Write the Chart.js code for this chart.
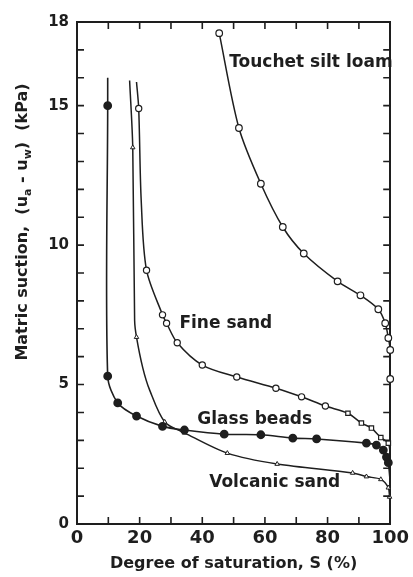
<!DOCTYPE html>
<html>
<head>
<meta charset="utf-8">
<script src="https://cdn.jsdelivr.net/npm/chart.js@4"></script>
<style>
  html, body { margin: 0; padding: 0; background: #fff; }
  #wrap { width: 413px; height: 577px; }
</style>
</head>
<body>
<div id="wrap"><canvas id="chart"></canvas></div>
<script>
// degree of saturation S (%) and matric suction (kPa)
const glassS   = [9.8, 9.8, 9.8, 13.0, 19.0, 27.3, 34.3, 47.0, 58.7, 68.9, 76.5, 92.4, 95.6, 97.8, 98.8, 99.4, 100];
const glassPsi = [16.0, 15.0, 5.3, 4.34, 3.87, 3.5, 3.37, 3.22, 3.2, 3.08, 3.05, 2.9, 2.83, 2.65, 2.4, 2.2, 1.5];

const volcS   = [16.8, 17.8, 18.4, 19.0, 21.0, 23.2, 28.0, 34.3, 48.0, 63.9, 88.0, 92.4, 97.0, 99.4, 99.8];
const volcPsi = [15.9, 13.5, 7.3, 6.7, 5.6, 4.8, 3.66, 3.27, 2.54, 2.15, 1.83, 1.7, 1.6, 1.3, 0.97];

const fineS   = [19.0, 19.7, 20.5, 22.2, 27.3, 28.6, 32.0, 40.0, 51.0, 63.5, 71.7, 79.3, 86.5, 90.8, 94.0, 97.0, 99.4, 100];
const finePsi = [15.85, 14.9, 11.6, 9.1, 7.5, 7.2, 6.5, 5.7, 5.27, 4.87, 4.56, 4.23, 3.97, 3.62, 3.44, 3.1, 2.9, 2.5];

const touchS   = [45.4, 51.7, 58.7, 65.7, 72.4, 83.2, 90.5, 96.2, 98.4, 99.4, 100, 100];
const touchPsi = [17.6, 14.2, 12.2, 10.65, 9.7, 8.7, 8.2, 7.7, 7.2, 6.67, 6.24, 5.2];

const seriesNames = ['Glass beads', 'Volcanic sand', 'Fine sand', 'Touchet silt loam'];
const xTicks = [0, 20, 40, 60, 80, 100];
const yTicks = [0, 5, 10, 15, 18];
const xStep = 10;
const yStep = 1;

// points on the curves that carry no marker
const glassBare = [0, 16];
const volcBare = [0, 2, 4, 5];
const fineBare = [0, 2, 17];

const ink = '#1e1e1e';

function pts(xs, ys) {
  return xs.map((x, i) => ({ x: x, y: ys[i] }));
}

function radius(bare, r) {
  return c => bare.includes(c.dataIndex) ? 0 : r;
}

// curve names placed inside the plot (data units)
const labelAt = [
  { text: seriesNames[3], s: 48.6, p: 16.55 },
  { text: seriesNames[2], s: 32.7, p: 7.2 },
  { text: seriesNames[0], s: 38.4, p: 3.73 },
  { text: seriesNames[1], s: 42.2, p: 1.5 }
];

const curveLabels = {
  id: 'curveLabels',
  afterDatasetsDraw(chart) {
    const ctx = chart.ctx;
    const xs = chart.scales.x, ys = chart.scales.y;
    ctx.save();
    ctx.fillStyle = ink;
    ctx.font = 'bold 17px "DejaVu Sans"';
    ctx.textBaseline = 'middle';
    ctx.textAlign = 'left';
    labelAt.forEach(l => {
      ctx.fillText(l.text, xs.getPixelForValue(l.s), ys.getPixelForValue(l.p));
    });
    ctx.restore();
  }
};

// tick marks pointing into the plot on all four sides
const inTicks = {
  id: 'inTicks',
  afterDraw(chart) {
    const ctx = chart.ctx;
    const xs = chart.scales.x, ys = chart.scales.y;
    const left = xs.left, right = xs.right, top = ys.top, bottom = ys.bottom;
    const len = 7;
    ctx.save();
    ctx.strokeStyle = ink;
    ctx.lineWidth = 1.6;
    for (let v = xs.min; v <= xs.max; v += xStep) {
      const px = xs.getPixelForValue(v);
      ctx.beginPath();
      ctx.moveTo(px, bottom); ctx.lineTo(px, bottom - len);
      ctx.moveTo(px, top); ctx.lineTo(px, top + len);
      ctx.stroke();
    }
    for (let v = ys.min; v <= ys.max; v += yStep) {
      const py = ys.getPixelForValue(v);
      ctx.beginPath();
      ctx.moveTo(left, py); ctx.lineTo(left + len, py);
      ctx.moveTo(right, py); ctx.lineTo(right - len, py);
      ctx.stroke();
    }
    ctx.restore();
  }
};

// y axis title with subscripts
const yTitle = {
  id: 'yTitle',
  afterDraw(chart) {
    const ctx = chart.ctx;
    const parts = [
      ['Matric suction,  (u', false],
      ['a', true],
      [' - u', false],
      ['w', true],
      [')  (kPa)', false]
    ];
    const big = 'bold 16px "DejaVu Sans"';
    const small = 'bold 11px "DejaVu Sans"';
    let total = 0;
    parts.forEach(p => {
      ctx.font = p[1] ? small : big;
      total += ctx.measureText(p[0]).width;
    });
    ctx.save();
    ctx.translate(23, 222);
    ctx.rotate(-Math.PI / 2);
    ctx.fillStyle = ink;
    ctx.textBaseline = 'middle';
    ctx.textAlign = 'left';
    let x = -total / 2;
    parts.forEach(p => {
      ctx.font = p[1] ? small : big;
      ctx.fillText(p[0], x, p[1] ? 5 : 0);
      x += ctx.measureText(p[0]).width;
    });
    ctx.restore();
  }
};

const tickFontY = { family: 'DejaVu Sans', size: 15, weight: 'bold' };
const tickFontX = { family: 'DejaVu Sans', size: 18, weight: 'bold' };
const noGrid = { drawOnChartArea: false, drawTicks: false };

new Chart(document.getElementById('chart'), {
  type: 'scatter',
  data: {
    datasets: [
      {
        label: seriesNames[0],
        data: pts(glassS, glassPsi),
        showLine: true,
        tension: 0.3,
        borderColor: ink,
        borderWidth: 1.6,
        pointStyle: 'circle',
        pointRadius: radius(glassBare, 3.6),
        pointBackgroundColor: ink,
        pointBorderColor: ink
      },
      {
        label: seriesNames[1],
        data: pts(volcS, volcPsi),
        showLine: true,
        tension: 0.3,
        borderColor: ink,
        borderWidth: 1.5,
        pointStyle: 'triangle',
        pointRadius: radius(volcBare, 2.6),
        pointBackgroundColor: '#fff',
        pointBorderColor: ink,
        pointBorderWidth: 1
      },
      {
        label: seriesNames[2],
        data: pts(fineS, finePsi),
        showLine: true,
        tension: 0.3,
        borderColor: ink,
        borderWidth: 1.5,
        pointStyle: c => c.dataIndex >= 12 ? 'rect' : 'circle',
        pointRadius: radius(fineBare, 3.1),
        pointBackgroundColor: '#fff',
        pointBorderColor: ink,
        pointBorderWidth: 1.2
      },
      {
        label: seriesNames[3],
        data: pts(touchS, touchPsi),
        showLine: true,
        tension: 0.3,
        borderColor: ink,
        borderWidth: 1.5,
        pointStyle: 'circle',
        pointRadius: 3.3,
        pointBackgroundColor: '#fff',
        pointBorderColor: ink,
        pointBorderWidth: 1.2
      }
    ]
  },
  options: {
    responsive: true,
    maintainAspectRatio: false,
    animation: false,
    devicePixelRatio: 1,
    clip: false,
    layout: { padding: 0 },
    plugins: {
      legend: { display: false },
      tooltip: { enabled: false }
    },
    scales: {
      x: {
        type: 'linear',
        position: 'bottom',
        min: 0,
        max: 100,
        ticks: {
          stepSize: xStep,
          autoSkip: false,
          maxRotation: 0,
          padding: 4,
          color: ink,
          font: tickFontX,
          callback: v => xTicks.includes(v) ? v : ''
        },
        grid: noGrid,
        border: { color: ink, width: 2 },
        title: {
          display: true,
          text: 'Degree of saturation, S (%)',
          color: ink,
          font: { family: 'DejaVu Sans', size: 16, weight: 'bold' },
          padding: { top: 0, bottom: 4 }
        },
        afterFit: s => { s.height = 53; }
      },
      x2: {
        type: 'linear',
        position: 'top',
        min: 0,
        max: 100,
        ticks: { display: false },
        grid: noGrid,
        border: { color: ink, width: 2 },
        afterFit: s => { s.height = 22; }
      },
      y: {
        type: 'linear',
        position: 'left',
        min: 0,
        max: 18,
        ticks: {
          stepSize: yStep,
          autoSkip: false,
          padding: 8,
          color: ink,
          font: tickFontY,
          callback: v => yTicks.includes(v) ? v : ''
        },
        grid: noGrid,
        border: { color: ink, width: 2 },
        afterFit: s => { s.width = 77; }
      },
      y2: {
        type: 'linear',
        position: 'right',
        min: 0,
        max: 18,
        ticks: { display: false },
        grid: noGrid,
        border: { color: ink, width: 2 },
        afterFit: s => { s.width = 21; }
      }
    }
  },
  plugins: [curveLabels, inTicks, yTitle]
});
</script>
</body>
</html>
